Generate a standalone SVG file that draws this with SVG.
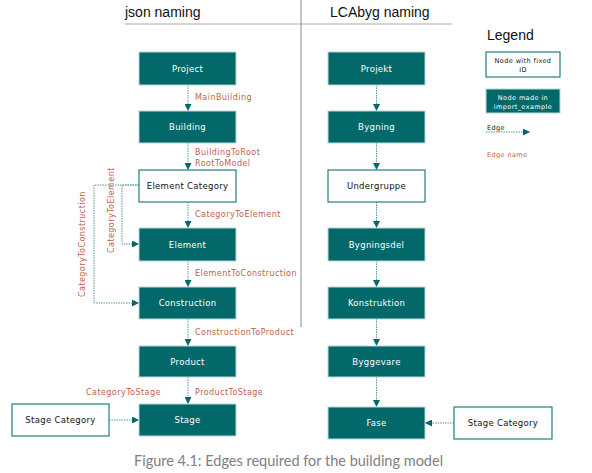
<svg xmlns="http://www.w3.org/2000/svg" width="592" height="473" viewBox="0 0 592 473">
<style>
.hdr{font-family:"Liberation Sans",Arial,sans-serif;font-size:14px;fill:#111}
.filled{fill:#03686a;stroke:#bcd6d6;stroke-width:1}
.fixed{fill:#fff;stroke:#237d7e;stroke-width:1.2}
.nt{font-family:"DejaVu Sans",sans-serif;font-size:8.5px;letter-spacing:0.3px;text-anchor:middle;dominant-baseline:central}
.w{fill:#fff}
.b{fill:#111}
.lbl{font-family:"DejaVu Sans",sans-serif;font-size:8px;letter-spacing:0.45px;fill:#c0604a}
.edge{fill:none;stroke:#5a9a9b;stroke-width:1;stroke-dasharray:1.5 1}
.small{font-family:"DejaVu Sans",sans-serif;font-size:6.5px;letter-spacing:0.4px;text-anchor:middle}
</style>
<defs>
<marker id="arr" viewBox="0 0 10 10" refX="10" refY="5" markerWidth="7" markerHeight="7" orient="auto" markerUnits="userSpaceOnUse">
<path d="M0,0 L10,5 L0,10 z" fill="#03686a"/>
</marker>
</defs>
<rect width="592" height="473" fill="#fff"/>
<g id="headers">
<text class="hdr" x="125" y="17">json naming</text>
<text class="hdr" x="330" y="17">LCAbyg naming</text>
<line x1="125" y1="24" x2="452" y2="24" stroke="#aaa" stroke-width="1"/>
<line x1="301" y1="0" x2="301" y2="327" stroke="#888" stroke-width="1"/>
</g>
<g id="connectors">
<line class="edge" x1="188" y1="85" x2="188" y2="111" marker-end="url(#arr)"/>
<line class="edge" x1="188" y1="143" x2="188" y2="170" marker-end="url(#arr)"/>
<line class="edge" x1="188" y1="202" x2="188" y2="228" marker-end="url(#arr)"/>
<line class="edge" x1="188" y1="261" x2="188" y2="287" marker-end="url(#arr)"/>
<line class="edge" x1="188" y1="319" x2="188" y2="346" marker-end="url(#arr)"/>
<line class="edge" x1="188" y1="377" x2="188" y2="404" marker-end="url(#arr)"/>
<polyline class="edge" points="139,185 122,185 122,244 139,244" marker-end="url(#arr)"/>
<polyline class="edge" points="139,185 94,185 94,303 139,303" marker-end="url(#arr)"/>
<line class="edge" x1="109" y1="420" x2="139" y2="420" marker-end="url(#arr)"/>
<line class="edge" x1="376.5" y1="85" x2="376.5" y2="111" marker-end="url(#arr)"/>
<line class="edge" x1="376.5" y1="143" x2="376.5" y2="170" marker-end="url(#arr)"/>
<line class="edge" x1="376.5" y1="202" x2="376.5" y2="228" marker-end="url(#arr)"/>
<line class="edge" x1="376.5" y1="261" x2="376.5" y2="287" marker-end="url(#arr)"/>
<line class="edge" x1="376.5" y1="319" x2="376.5" y2="346" marker-end="url(#arr)"/>
<line class="edge" x1="376.5" y1="377" x2="376.5" y2="407" marker-end="url(#arr)"/>
<line class="edge" x1="454" y1="423" x2="425" y2="423" marker-end="url(#arr)"/>
<line class="edge" x1="486" y1="132" x2="530" y2="132" marker-end="url(#arr)"/>
</g>
<g id="edge-labels">
<text class="lbl" x="195" y="100">MainBuilding</text>
<text class="lbl" x="195" y="155">BuildingToRoot</text>
<text class="lbl" x="195" y="166">RootToModel</text>
<text class="lbl" x="195" y="217">CategoryToElement</text>
<text class="lbl" x="195" y="276">ElementToConstruction</text>
<text class="lbl" x="195" y="335">ConstructionToProduct</text>
<text class="lbl" x="195" y="395">ProductToStage</text>
<text class="lbl" x="86" y="395">CategoryToStage</text>
<text class="lbl" transform="translate(114,253) rotate(-90)">CategoryToElement</text>
<text class="lbl" transform="translate(85,297) rotate(-90)">CategoryToConstruction</text>
</g>
<g id="node-project"><rect class="filled" x="139" y="52" width="97" height="33"/><text class="nt w" x="187.5" y="68.5">Project</text></g>
<g id="node-building"><rect class="filled" x="139" y="111" width="97" height="32"/><text class="nt w" x="187.5" y="127">Building</text></g>
<g id="node-element-category"><rect class="fixed" x="139" y="170" width="97" height="32"/><text class="nt b" x="187.5" y="186">Element Category</text></g>
<g id="node-element"><rect class="filled" x="139" y="228" width="97" height="33"/><text class="nt w" x="187.5" y="244.5">Element</text></g>
<g id="node-construction"><rect class="filled" x="139" y="287" width="97" height="32"/><text class="nt w" x="187.5" y="303">Construction</text></g>
<g id="node-product"><rect class="filled" x="139" y="346" width="97" height="31"/><text class="nt w" x="187.5" y="361.5">Product</text></g>
<g id="node-stage"><rect class="filled" x="139" y="404" width="97" height="32"/><text class="nt w" x="187.5" y="420">Stage</text></g>
<g id="node-stage-category-left"><rect class="fixed" x="12" y="404" width="97" height="32"/><text class="nt b" x="60.5" y="420">Stage Category</text></g>
<g id="node-projekt"><rect class="filled" x="328" y="52" width="97" height="33"/><text class="nt w" x="376.5" y="68.5">Projekt</text></g>
<g id="node-bygning"><rect class="filled" x="328" y="111" width="97" height="32"/><text class="nt w" x="376.5" y="127">Bygning</text></g>
<g id="node-undergruppe"><rect class="fixed" x="328" y="170" width="97" height="32"/><text class="nt b" x="376.5" y="186">Undergruppe</text></g>
<g id="node-bygningsdel"><rect class="filled" x="328" y="228" width="97" height="33"/><text class="nt w" x="376.5" y="244.5">Bygningsdel</text></g>
<g id="node-konstruktion"><rect class="filled" x="328" y="287" width="97" height="32"/><text class="nt w" x="376.5" y="303">Konstruktion</text></g>
<g id="node-byggevare"><rect class="filled" x="328" y="346" width="97" height="31"/><text class="nt w" x="376.5" y="361.5">Byggevare</text></g>
<g id="node-fase"><rect class="filled" x="328" y="407" width="97" height="32"/><text class="nt w" x="376.5" y="423">Fase</text></g>
<g id="node-stage-category-right"><rect class="fixed" x="454" y="407" width="98" height="32"/><text class="nt b" x="503" y="423">Stage Category</text></g>
<g id="legend">
<text class="hdr" x="487" y="40">Legend</text>
<rect class="fixed" x="486" y="52" width="74" height="25"/>
<text class="small b" x="523" y="63">Node with fixed</text>
<text class="small b" x="523" y="72">ID</text>
<rect class="filled" x="486" y="89" width="74" height="24"/>
<text class="small w" x="523" y="100">Node made in</text>
<text class="small w" x="523" y="109">import_example</text>
<text class="small b" x="487" y="130" style="text-anchor:start">Edge</text>
<text class="small" x="487" y="157" style="text-anchor:start;fill:#c0604a">Edge name</text>
</g>
<text id="caption" x="134" y="466" font-family="Lato,'Liberation Sans',sans-serif" font-size="14.5" fill="#808080">Figure 4.1: Edges required for the building model</text>
</svg>
